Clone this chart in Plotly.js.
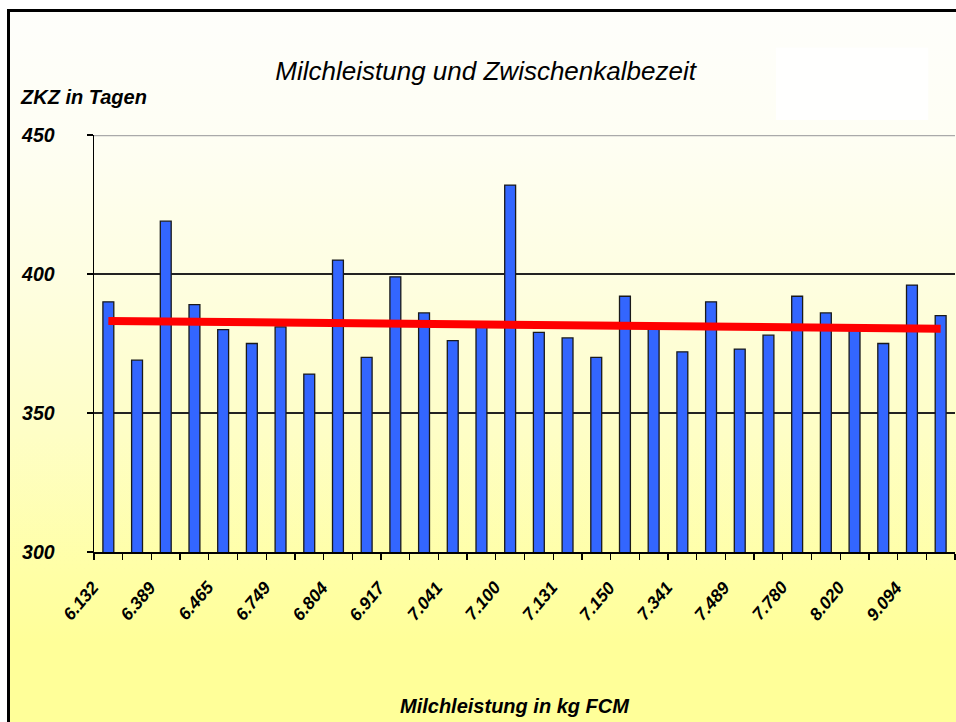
<!DOCTYPE html>
<html>
<head>
<meta charset="utf-8">
<script src="https://cdn.plot.ly/plotly-3.0.1.min.js"></script>
<style>
  html, body { margin: 0; padding: 0; background: #ffffff; }
  #wrap { position: relative; width: 956px; height: 722px; overflow: hidden; background: #ffffff; }
  #frame {
    position: absolute; left: 7px; top: 9px; width: 1000px; height: 800px;
    border-left: 3px solid #000; border-top: 3px solid #000;
    background: linear-gradient(to bottom, #fefefb 0px, #fefef4 120px, #fefee2 260px, #fefec6 420px, #ffffa6 560px, #ffff99 630px, #ffff99 800px);
  }
  #chart { position: absolute; left: 0; top: 0; width: 956px; height: 722px; }
</style>
</head>
<body>
<div id="wrap">
  <div id="frame"></div>
  <div id="chart"></div>
</div>
<script>
// Category tick labels (every second category is labelled in the original)
const milkLabels = ["6.132", "6.389", "6.465", "6.749", "6.804", "6.917", "7.041", "7.100",
                    "7.131", "7.150", "7.341", "7.489", "7.780", "8.020", "9.094"];
// ZKZ (Zwischenkalbezeit) in days, one value per category (30 categories)
const zkzValues = [390, 369, 419, 389, 380, 375, 381, 364, 405, 370,
                   399, 386, 376, 381, 432, 379, 377, 370, 392, 381,
                   372, 390, 373, 378, 392, 386, 380, 375, 396, 385];
// Linear trend line endpoints (first and last category)
const trendValues = [383.1, 380.3];
// Y axis ticks
const yTicks = [300, 350, 400, 450];

const idx = zkzValues.map((_, i) => i);
const labelPos = milkLabels.map((_, i) => i * 2);
const trendX = [0, zkzValues.length - 1];

const fontFam = "Liberation Sans, Arial, sans-serif";

const traces = [
  {
    type: "bar",
    x: idx,
    y: zkzValues,
    marker: { color: "#3366ff", line: { color: "#1a1a1a", width: 1.3 } },
    hoverinfo: "skip",
    showlegend: false
  },
  {
    type: "scatter",
    mode: "lines",
    x: trendX,
    y: trendValues,
    line: { color: "#ff0000", width: 8 },
    hoverinfo: "skip",
    showlegend: false
  }
];

const tickAnnotations = milkLabels.map((s, k) => ({
  text: "<b><i>" + s + "</i></b>",
  xref: "x", yref: "paper",
  x: labelPos[k], y: -0.055,
  xanchor: "right", yanchor: "top",
  xshift: -3,
  textangle: -50,
  showarrow: false,
  font: { family: fontFam, size: 17.5, color: "#000" }
}));

const layout = {
  width: 956,
  height: 722,
  margin: { l: 94, r: 1, t: 135, b: 170 },
  paper_bgcolor: "rgba(0,0,0,0)",
  plot_bgcolor: "rgba(0,0,0,0)",
  bargap: 0.62,
  showlegend: false,
  title: {
    text: "<i>Milchleistung und Zwischenkalbezeit</i>",
    font: { family: fontFam, size: 26, color: "#000" },
    x: 0.508, xanchor: "center",
    y: 0.902, yanchor: "middle"
  },
  xaxis: {
    range: [-0.5, zkzValues.length - 0.5],
    tickmode: "array",
    tickvals: labelPos,
    ticktext: milkLabels.map(() => ""),
    ticks: "",
    minor: { tick0: -0.5, dtick: 1, ticks: "outside", ticklen: 6, tickwidth: 1.3, tickcolor: "#000", showgrid: false },
    showline: true, linecolor: "#000", linewidth: 1.5,
    showgrid: false, zeroline: false, fixedrange: true
  },
  yaxis: {
    range: [300, 450],
    tickmode: "array",
    tickvals: yTicks,
    ticktext: yTicks.map(v => "<b><i>" + v + "</i></b>"),
    ticks: "outside", ticklen: 6, tickwidth: 1.3, tickcolor: "#000",
    ticklabelstandoff: 28,
    tickfont: { family: fontFam, size: 19.5, color: "#000" },
    showline: true, linecolor: "#000", linewidth: 1.5,
    showgrid: true, gridcolor: "#222", gridwidth: 1.5,
    zeroline: false, fixedrange: true
  },
  shapes: [
    { type: "line", xref: "paper", yref: "y", x0: 0, x1: 1, y0: 450, y1: 450,
      line: { color: "#aaaaaa", width: 2.5 }, layer: "above" },
    { type: "rect", xref: "paper", yref: "paper", x0: 0.792, x1: 0.969, y0: 1.036, y1: 1.21,
      fillcolor: "rgba(255,255,255,0.85)", line: { width: 0 }, layer: "below" }
  ],
  annotations: [
    { text: "<b><i>ZKZ in Tagen</i></b>", xref: "paper", yref: "paper",
      x: -0.088, xanchor: "left", y: 1.092, yanchor: "middle", showarrow: false,
      font: { family: fontFam, size: 20, color: "#000" } },
    { text: "<b><i>Milchleistung in kg FCM</i></b>", xref: "paper", yref: "paper",
      x: 0.489, xanchor: "center", y: -0.370, yanchor: "middle", showarrow: false,
      font: { family: fontFam, size: 20, color: "#000" } }
  ].concat(tickAnnotations)
};

Plotly.newPlot("chart", traces, layout, { displayModeBar: false, staticPlot: true });
</script>
</body>
</html>
